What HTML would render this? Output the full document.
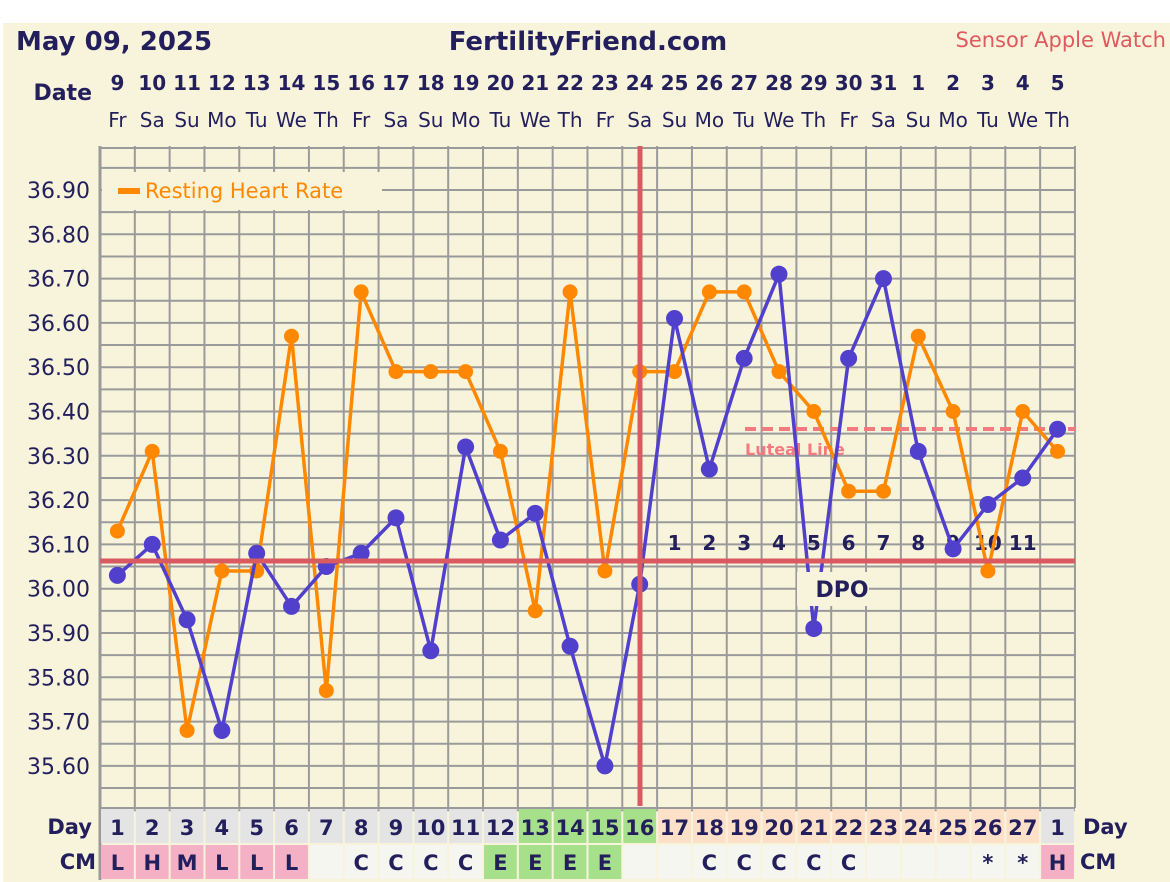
<!DOCTYPE html>
<html><head><meta charset="utf-8"><style>
html,body{margin:0;padding:0;background:#fff}
svg{display:block}
text{font-family:"DejaVu Sans","Liberation Sans",sans-serif;fill:#221f5c}
</style></head><body>
<svg width="1170" height="882" viewBox="0 0 1170 882" xmlns="http://www.w3.org/2000/svg">
<rect x="3" y="23" width="1167" height="859" fill="#f8f4dc"/>
<text x="16" y="50" font-size="26" font-weight="bold">May 09, 2025</text>
<text x="588" y="50" font-size="26" font-weight="bold" text-anchor="middle">FertilityFriend.com</text>
<text x="1166" y="47" font-size="21" text-anchor="end" style="fill:#dd5a5e">Sensor Apple Watch</text>
<text x="92" y="100" font-size="22" font-weight="bold" text-anchor="end">Date</text>
<g id="dates" font-size="20" text-anchor="middle"></g>
<g id="grid"></g>
<g id="ylab" font-size="22" text-anchor="end"></g>
<rect x="102" y="172" width="280" height="38" fill="#f8f4dc"/>
<rect x="118" y="188" width="22" height="6" fill="#ff8800"/>
<text x="145" y="198" font-size="21" style="fill:#ff8800">Resting Heart Rate</text>
<line x1="745" y1="429" x2="1075" y2="429" stroke="#f47a80" stroke-width="4" stroke-dasharray="11,6"/>
<text x="745" y="455" font-size="16" font-weight="bold" style="fill:#f47a80">Luteal Line</text>
<g id="dpo" font-size="20" font-weight="bold" text-anchor="middle"></g>
<g id="series"></g>
<line x1="100" y1="561" x2="1075" y2="561" stroke="#d95a60" stroke-width="5"/>
<line x1="640" y1="146" x2="640" y2="806" stroke="#d95a60" stroke-width="5"/>
<rect x="797" y="572" width="72" height="34" fill="#f8f4dc"/>
<text x="842" y="597" font-size="22" font-weight="bold" text-anchor="middle">DPO</text>
<g id="rows" font-size="21" font-weight="bold" text-anchor="middle"></g>
<text x="92" y="834" font-size="21" font-weight="bold" text-anchor="end">Day</text>
<text x="96" y="869" font-size="21" font-weight="bold" text-anchor="end">CM</text>
<text x="1083" y="834" font-size="21" font-weight="bold">Day</text>
<text x="1080" y="869" font-size="21" font-weight="bold">CM</text>
</svg>
<script>
const NS="http://www.w3.org/2000/svg";
function el(p,t,a,txt){const e=document.createElementNS(NS,t);for(const k in a)e.setAttribute(k,a[k]);if(txt!==undefined)e.textContent=txt;document.getElementById(p).appendChild(e);return e;}
const W=34.82,X0=100,cx=i=>X0+W*i+W/2;
const Y=v=>190+(36.90-v)*443;
const dates=[9,10,11,12,13,14,15,16,17,18,19,20,21,22,23,24,25,26,27,28,29,30,31,1,2,3,4,5];
const days=["Fr","Sa","Su","Mo","Tu","We","Th"];
dates.forEach((d,i)=>{el("dates","text",{x:cx(i),y:90,"font-weight":"bold"},d);el("dates","text",{x:cx(i),y:127},days[i%7]);});
// grid
for(let i=0;i<=28;i++){const x=X0+W*i;el("grid","line",{x1:x,y1:146,x2:x,y2:808,stroke:"#9a9a9a","stroke-width":2});}
for(let v=36.95;v>35.5;v-=0.05){const y=Y(v);el("grid","line",{x1:100,y1:y,x2:1075,y2:y,stroke:"#9a9a9a","stroke-width":2});}
el("grid","line",{x1:100,y1:148,x2:1075,y2:148,stroke:"#9a9a9a","stroke-width":2});
el("grid","line",{x1:100,y1:146,x2:100,y2:880,stroke:"#9a9a9a","stroke-width":3});
for(let k=0;k<14;k++){const v=36.90-k*0.1;el("ylab","text",{x:90,y:Y(v)+8},v.toFixed(2));}
// dpo
for(let k=1;k<=11;k++)el("dpo","text",{x:cx(15+k),y:550},k);
const P=[36.03,36.10,35.93,35.68,36.08,35.96,36.05,36.08,36.16,35.86,36.32,36.11,36.17,35.87,35.60,36.01,36.61,36.27,36.52,36.71,35.91,36.52,36.70,36.31,36.09,36.19,36.25,36.36];
const O=[36.13,36.31,35.68,36.04,36.04,36.57,35.77,36.67,36.49,36.49,36.49,36.31,35.95,36.67,36.04,36.49,36.49,36.67,36.67,36.49,36.40,36.22,36.22,36.57,36.40,36.04,36.40,36.31];
function ser(a,c,r){el("series","polyline",{points:a.map((v,i)=>cx(i)+","+Y(v)).join(" "),fill:"none",stroke:c,"stroke-width":3.5});a.forEach((v,i)=>el("series","circle",{cx:cx(i),cy:Y(v),r:r,fill:c}));}
ser(O,"#ff8800",7.5);ser(P,"#5040cc",8.5);
// rows
const cm=["L","H","M","L","L","L","","C","C","C","C","E","E","E","E","","","C","C","C","C","C","","","","*","*","H"];
for(let i=0;i<28;i++){const x=X0+W*i;
 let dc=i<12?"#e4e4e4":i<16?"#a6e08a":i<27?"#fde0c8":"#e4e4e4";
 el("rows","rect",{x:x+1,y:809,width:W-2,height:34,fill:dc});
 el("rows","text",{x:cx(i),y:835},i<27?i+1:1);
 const c=cm[i];let cc=(c=="L"||c=="H"||c=="M")?"#f4b0c4":c=="E"?"#a6e08a":"#f6f6f0";
 el("rows","rect",{x:x+1,y:845,width:W-2,height:34,fill:cc});
 if(c)el("rows","text",{x:cx(i),y:870},c);
}
el("rows","line",{x1:100,y1:808,x2:1075,y2:808,stroke:"#9a9a9a","stroke-width":2});
</script>
</body></html>
